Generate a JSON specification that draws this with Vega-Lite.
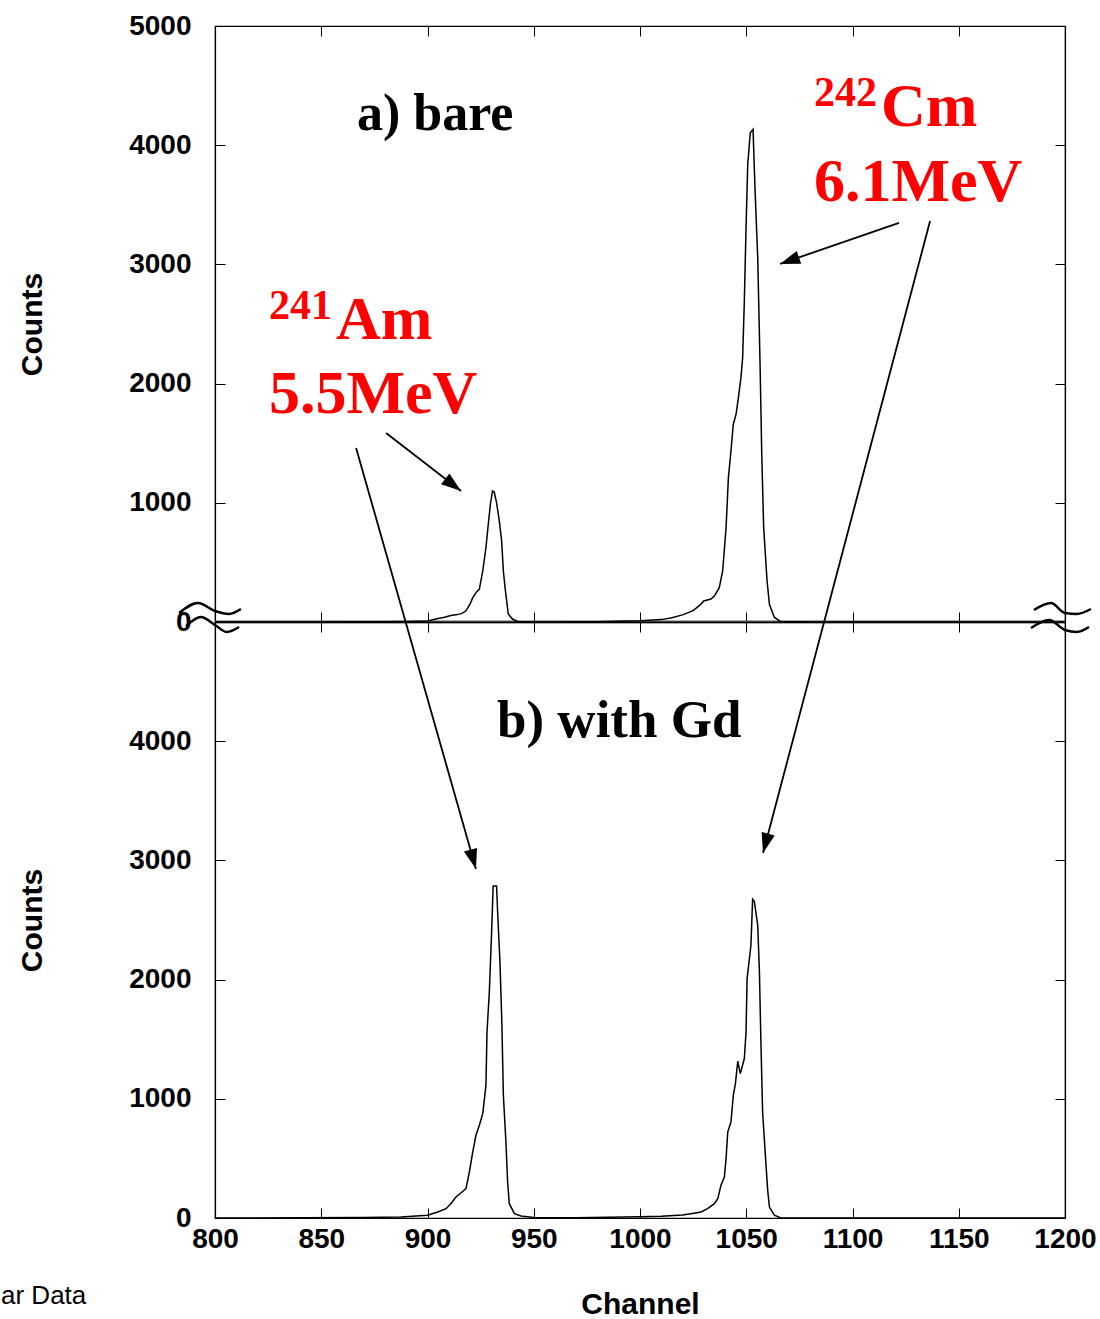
{
  "$schema": "https://vega.github.io/schema/vega-lite/v6.json",
  "background": "white",
  "padding": {"left": 0, "top": 11, "right": 0, "bottom": 0},
  "spacing": 0,
  "bounds": "flush",
  "config": {
    "view": {"stroke": "black", "strokeWidth": 1.2},
    "axis": {
      "grid": false, "domainColor": "black", "domainWidth": 1.2,
      "tickColor": "black", "tickWidth": 1, "tickSize": -10,
      "labelFont": "Liberation Sans", "labelFontSize": 28, "labelFontWeight": "bold", "labelColor": "black",
      "labelFlush": false, "labelOverlap": false,
      "titleFont": "Liberation Sans", "titleFontSize": 30, "titleFontWeight": "bold", "titleColor": "black"
    },
    "axisX": {"labelPadding": 17, "titlePadding": 36},
    "axisY": {"labelPadding": 34}
  },
  "datasets": {
    "bare": [
      {"ch": 800, "c": 0}, {"ch": 850, "c": 0}, {"ch": 880, "c": 3}, {"ch": 890, "c": 5}, {"ch": 900, "c": 8},
      {"ch": 905, "c": 30}, {"ch": 908, "c": 40}, {"ch": 911, "c": 55}, {"ch": 914, "c": 62}, {"ch": 916, "c": 70},
      {"ch": 918, "c": 92}, {"ch": 920, "c": 150}, {"ch": 921.3, "c": 204}, {"ch": 923, "c": 250}, {"ch": 924.4, "c": 276},
      {"ch": 926, "c": 428}, {"ch": 927.5, "c": 623}, {"ch": 928.6, "c": 820}, {"ch": 929.6, "c": 990}, {"ch": 930.6, "c": 1099},
      {"ch": 931.4, "c": 1090}, {"ch": 932.5, "c": 1001}, {"ch": 933.8, "c": 847}, {"ch": 934.9, "c": 680}, {"ch": 935.7, "c": 428},
      {"ch": 936.5, "c": 288}, {"ch": 938, "c": 67}, {"ch": 940, "c": 25}, {"ch": 942.4, "c": 5}, {"ch": 945, "c": 2},
      {"ch": 960, "c": 0}, {"ch": 980, "c": 3}, {"ch": 1000, "c": 10}, {"ch": 1010, "c": 20}, {"ch": 1015, "c": 35},
      {"ch": 1020, "c": 60}, {"ch": 1025, "c": 95}, {"ch": 1028.7, "c": 150}, {"ch": 1030, "c": 176}, {"ch": 1033.4, "c": 193},
      {"ch": 1035, "c": 218}, {"ch": 1037.3, "c": 288}, {"ch": 1038.9, "c": 428}, {"ch": 1040.5, "c": 791}, {"ch": 1041.6, "c": 1211},
      {"ch": 1042.8, "c": 1435}, {"ch": 1043.9, "c": 1659}, {"ch": 1045.2, "c": 1743}, {"ch": 1046.3, "c": 1882}, {"ch": 1047.5, "c": 2050},
      {"ch": 1048.3, "c": 2218}, {"ch": 1049.1, "c": 2693}, {"ch": 1049.9, "c": 3308}, {"ch": 1050.7, "c": 3840}, {"ch": 1051.9, "c": 4105},
      {"ch": 1053.2, "c": 4134}, {"ch": 1054.1, "c": 3644}, {"ch": 1055.4, "c": 3057}, {"ch": 1056.5, "c": 2162}, {"ch": 1057.3, "c": 1407},
      {"ch": 1058.2, "c": 791}, {"ch": 1059.8, "c": 344}, {"ch": 1060.9, "c": 148}, {"ch": 1063.2, "c": 40}, {"ch": 1066, "c": 5},
      {"ch": 1080, "c": 0}, {"ch": 1200, "c": 0}
    ],
    "gd": [
      {"ch": 800, "c": 0}, {"ch": 840, "c": 2}, {"ch": 870, "c": 5}, {"ch": 887.5, "c": 8}, {"ch": 900, "c": 23},
      {"ch": 904.8, "c": 50}, {"ch": 908.7, "c": 78}, {"ch": 911, "c": 120}, {"ch": 913.4, "c": 176}, {"ch": 915.8, "c": 212},
      {"ch": 918.1, "c": 246}, {"ch": 919.7, "c": 386}, {"ch": 921.3, "c": 554}, {"ch": 922.8, "c": 694}, {"ch": 924.4, "c": 778},
      {"ch": 926, "c": 875}, {"ch": 927.5, "c": 1113}, {"ch": 928, "c": 1561}, {"ch": 929.1, "c": 1896}, {"ch": 930.2, "c": 2414},
      {"ch": 930.9, "c": 2785}, {"ch": 932.5, "c": 2785}, {"ch": 933, "c": 2567}, {"ch": 934.1, "c": 2148}, {"ch": 935, "c": 1630},
      {"ch": 935.7, "c": 1029}, {"ch": 936.9, "c": 638}, {"ch": 937.7, "c": 302}, {"ch": 938.5, "c": 120}, {"ch": 940.9, "c": 36},
      {"ch": 944, "c": 17}, {"ch": 950, "c": 5}, {"ch": 970, "c": 2}, {"ch": 1000, "c": 10}, {"ch": 1010, "c": 15},
      {"ch": 1020, "c": 25}, {"ch": 1024, "c": 36}, {"ch": 1028.7, "c": 50}, {"ch": 1031.8, "c": 78}, {"ch": 1035, "c": 120},
      {"ch": 1036.6, "c": 162}, {"ch": 1038.1, "c": 274}, {"ch": 1039.7, "c": 344}, {"ch": 1040.5, "c": 498}, {"ch": 1041.3, "c": 722},
      {"ch": 1042.8, "c": 805}, {"ch": 1043.9, "c": 1029}, {"ch": 1044.9, "c": 1127}, {"ch": 1046, "c": 1315}, {"ch": 1047.2, "c": 1211},
      {"ch": 1049.1, "c": 1338}, {"ch": 1049.9, "c": 1561}, {"ch": 1050.4, "c": 2008}, {"ch": 1052.2, "c": 2288}, {"ch": 1053, "c": 2674},
      {"ch": 1053.8, "c": 2657}, {"ch": 1055.4, "c": 2456}, {"ch": 1056.2, "c": 2064}, {"ch": 1056.9, "c": 1477}, {"ch": 1057.7, "c": 889},
      {"ch": 1059.3, "c": 442}, {"ch": 1060.1, "c": 232}, {"ch": 1060.9, "c": 92}, {"ch": 1063.2, "c": 23}, {"ch": 1066, "c": 3},
      {"ch": 1100, "c": 0}, {"ch": 1200, "c": 0}
    ],
    "squiggles": [
      {"w": "lu", "i": 1, "ch": 783.1, "c": 75}, {"w": "lu", "i": 2, "ch": 792.0, "c": 159}, {"w": "lu", "i": 3, "ch": 800.0, "c": 92}, {"w": "lu", "i": 4, "ch": 806.6, "c": 67}, {"w": "lu", "i": 5, "ch": 812.2, "c": 109},
      {"w": "ll", "i": 1, "ch": 786.4, "c": -34}, {"w": "ll", "i": 2, "ch": 793.4, "c": 42}, {"w": "ll", "i": 3, "ch": 800.0, "c": -25}, {"w": "ll", "i": 4, "ch": 805.6, "c": -84}, {"w": "ll", "i": 5, "ch": 811.3, "c": -42},
      {"w": "ru", "i": 1, "ch": 1185.4, "c": 101}, {"w": "ru", "i": 2, "ch": 1193.4, "c": 159}, {"w": "ru", "i": 3, "ch": 1200.0, "c": 75}, {"w": "ru", "i": 4, "ch": 1205.6, "c": 67}, {"w": "ru", "i": 5, "ch": 1212.2, "c": 109},
      {"w": "rl", "i": 1, "ch": 1184.0, "c": -50}, {"w": "rl", "i": 2, "ch": 1192.5, "c": 17}, {"w": "rl", "i": 3, "ch": 1200.0, "c": -67}, {"w": "rl", "i": 4, "ch": 1205.6, "c": -84}, {"w": "rl", "i": 5, "ch": 1211.3, "c": -42}
    ],
    "arrows": [
      {"id": "A", "x1": 880.5, "y1": 1586, "x2": 915.8, "y2": 1099},
      {"id": "B", "x1": 866.4, "y1": 1460, "x2": 922.8, "y2": -2072},
      {"id": "C", "x1": 1121.9, "y1": 3348, "x2": 1065.9, "y2": 3004},
      {"id": "D", "x1": 1136.5, "y1": 3364, "x2": 1057.9, "y2": -1938}
    ],
    "redBig": [
      {"ch": 1113.4, "c": 4161, "label": "Cm"},
      {"ch": 1081.9, "c": 3532, "label": "6.1MeV"},
      {"ch": 856.9, "c": 2374, "label": "Am"},
      {"ch": 825.4, "c": 1753, "label": "5.5MeV"}
    ],
    "redSup": [
      {"ch": 1081.9, "c": 4329, "label": "242"},
      {"ch": 825.4, "c": 2542, "label": "241"}
    ]
  },
  "vconcat": [
    {
      "width": 850, "height": 596,
      "layer": [
        {
          "data": {"values": [{}]},
          "mark": {"type": "rule", "color": "#555555", "strokeWidth": 3},
          "encoding": {"y": {"datum": 0, "type": "quantitative", "scale": {"domain": [0, 5000], "nice": false}, "axis": null}}
        },
        {
          "data": {"name": "bare"},
          "mark": {"type": "line", "color": "black", "strokeWidth": 1.5},
          "encoding": {
            "x": {"field": "ch", "type": "quantitative", "scale": {"domain": [800, 1200], "nice": false},
                  "axis": {"orient": "bottom", "labels": false, "title": null, "values": [800, 850, 900, 950, 1000, 1050, 1100, 1150, 1200]}},
            "y": {"field": "c", "type": "quantitative", "scale": {"domain": [0, 5000], "nice": false},
                  "axis": {"orient": "left", "title": "Counts", "titlePadding": 81, "format": "d", "values": [0, 1000, 2000, 3000, 4000, 5000]}}
          }
        },
        {
          "data": {"name": "squiggles"},
          "mark": {"type": "line", "color": "black", "strokeWidth": 2.5, "interpolate": "monotone"},
          "encoding": {
            "x": {"field": "ch", "type": "quantitative", "scale": {"domain": [800, 1200], "nice": false},
                  "axis": {"orient": "top", "labels": false, "title": null, "values": [800, 850, 900, 950, 1000, 1050, 1100, 1150, 1200]}},
            "y": {"field": "c", "type": "quantitative", "scale": {"domain": [0, 5000], "nice": false},
                  "axis": {"orient": "right", "labels": false, "title": null, "values": [0, 1000, 2000, 3000, 4000, 5000]}},
            "detail": {"field": "w"},
            "order": {"field": "i"}
          }
        },
        {
          "data": {"name": "arrows"},
          "mark": {"type": "rule", "color": "black", "strokeWidth": 1.8},
          "encoding": {
            "x": {"field": "x1", "type": "quantitative", "scale": {"domain": [800, 1200], "nice": false}, "axis": null},
            "x2": {"field": "x2"},
            "y": {"field": "y1", "type": "quantitative", "scale": {"domain": [0, 5000], "nice": false}, "axis": null},
            "y2": {"field": "y2"}
          }
        },
        {
          "data": {"name": "arrows"},
          "transform": [{"filter": "datum.id === 'A'"}],
          "mark": {"type": "point", "shape": "M0,0L-1,-0.34L-1,0.34Z", "size": 1600, "angle": 37.7, "filled": true, "color": "black", "opacity": 1},
          "encoding": {
            "x": {"field": "x2", "type": "quantitative", "scale": {"domain": [800, 1200], "nice": false}, "axis": null},
            "y": {"field": "y2", "type": "quantitative", "scale": {"domain": [0, 5000], "nice": false}, "axis": null}
          }
        },
        {
          "data": {"name": "arrows"},
          "transform": [{"filter": "datum.id === 'B'"}],
          "mark": {"type": "point", "shape": "M0,0L-1,-0.34L-1,0.34Z", "size": 1600, "angle": 74.1, "filled": true, "color": "black", "opacity": 1},
          "encoding": {
            "x": {"field": "x2", "type": "quantitative", "scale": {"domain": [800, 1200], "nice": false}, "axis": null},
            "y": {"field": "y2", "type": "quantitative", "scale": {"domain": [0, 5000], "nice": false}, "axis": null}
          }
        },
        {
          "data": {"name": "arrows"},
          "transform": [{"filter": "datum.id === 'C'"}],
          "mark": {"type": "point", "shape": "M0,0L-1,-0.34L-1,0.34Z", "size": 1600, "angle": 161.0, "filled": true, "color": "black", "opacity": 1},
          "encoding": {
            "x": {"field": "x2", "type": "quantitative", "scale": {"domain": [800, 1200], "nice": false}, "axis": null},
            "y": {"field": "y2", "type": "quantitative", "scale": {"domain": [0, 5000], "nice": false}, "axis": null}
          }
        },
        {
          "data": {"name": "arrows"},
          "transform": [{"filter": "datum.id === 'D'"}],
          "mark": {"type": "point", "shape": "M0,0L-1,-0.34L-1,0.34Z", "size": 1600, "angle": 104.8, "filled": true, "color": "black", "opacity": 1},
          "encoding": {
            "x": {"field": "x2", "type": "quantitative", "scale": {"domain": [800, 1200], "nice": false}, "axis": null},
            "y": {"field": "y2", "type": "quantitative", "scale": {"domain": [0, 5000], "nice": false}, "axis": null}
          }
        },
        {
          "data": {"values": [{"ch": 866.8, "c": 4125, "label": "a) bare"}]},
          "mark": {"type": "text", "font": "Liberation Serif", "fontWeight": "bold", "fontSize": 52, "color": "black", "align": "left", "baseline": "alphabetic"},
          "encoding": {
            "x": {"field": "ch", "type": "quantitative", "scale": {"domain": [800, 1200], "nice": false}, "axis": null},
            "y": {"field": "c", "type": "quantitative", "scale": {"domain": [0, 5000], "nice": false}, "axis": null},
            "text": {"field": "label"}
          }
        },
        {
          "data": {"name": "redBig"},
          "mark": {"type": "text", "font": "Liberation Serif", "fontWeight": "bold", "fontSize": 62, "color": "#ff0000", "align": "left", "baseline": "alphabetic"},
          "encoding": {
            "x": {"field": "ch", "type": "quantitative", "scale": {"domain": [800, 1200], "nice": false}, "axis": null},
            "y": {"field": "c", "type": "quantitative", "scale": {"domain": [0, 5000], "nice": false}, "axis": null},
            "text": {"field": "label"}
          }
        },
        {
          "data": {"name": "redSup"},
          "mark": {"type": "text", "font": "Liberation Serif", "fontWeight": "bold", "fontSize": 42, "color": "#ff0000", "align": "left", "baseline": "alphabetic"},
          "encoding": {
            "x": {"field": "ch", "type": "quantitative", "scale": {"domain": [800, 1200], "nice": false}, "axis": null},
            "y": {"field": "c", "type": "quantitative", "scale": {"domain": [0, 5000], "nice": false}, "axis": null},
            "text": {"field": "label"}
          }
        }
      ],
      "resolve": {"axis": {"x": "independent", "y": "independent"}}
    },
    {
      "width": 850, "height": 596,
      "layer": [
        {
          "data": {"name": "gd"},
          "mark": {"type": "line", "color": "black", "strokeWidth": 1.5},
          "encoding": {
            "x": {"field": "ch", "type": "quantitative", "scale": {"domain": [800, 1200], "nice": false},
                  "axis": {"orient": "bottom", "title": "Channel", "format": "d", "values": [800, 850, 900, 950, 1000, 1050, 1100, 1150, 1200]}},
            "y": {"field": "c", "type": "quantitative", "scale": {"domain": [0, 5000], "nice": false},
                  "axis": {"orient": "left", "title": "Counts", "titlePadding": 81, "format": "d", "values": [0, 1000, 2000, 3000, 4000, 5000],
                           "labelExpr": "datum.value >= 5000 ? '' : datum.label"}}
          }
        },
        {
          "data": {"values": [{"ch": 932.7, "c": 4036, "label": "b) with Gd"}]},
          "mark": {"type": "text", "font": "Liberation Serif", "fontWeight": "bold", "fontSize": 53, "color": "black", "align": "left", "baseline": "alphabetic"},
          "encoding": {
            "x": {"field": "ch", "type": "quantitative", "scale": {"domain": [800, 1200], "nice": false},
                  "axis": {"orient": "top", "labels": false, "title": null, "values": [800, 850, 900, 950, 1000, 1050, 1100, 1150, 1200]}},
            "y": {"field": "c", "type": "quantitative", "scale": {"domain": [0, 5000], "nice": false},
                  "axis": {"orient": "right", "labels": false, "title": null, "values": [0, 1000, 2000, 3000, 4000, 5000]}},
            "text": {"field": "label"}
          }
        },
        {
          "data": {"values": [{"ch": 699.3, "c": -721.5, "label": "ar Data"}]},
          "mark": {"type": "text", "font": "Liberation Sans", "fontSize": 26, "color": "black", "align": "left", "baseline": "alphabetic"},
          "encoding": {
            "x": {"field": "ch", "type": "quantitative", "scale": {"domain": [800, 1200], "nice": false}, "axis": null},
            "y": {"field": "c", "type": "quantitative", "scale": {"domain": [0, 5000], "nice": false}, "axis": null},
            "text": {"field": "label"}
          }
        }
      ],
      "resolve": {"axis": {"x": "independent", "y": "independent"}}
    }
  ]
}
